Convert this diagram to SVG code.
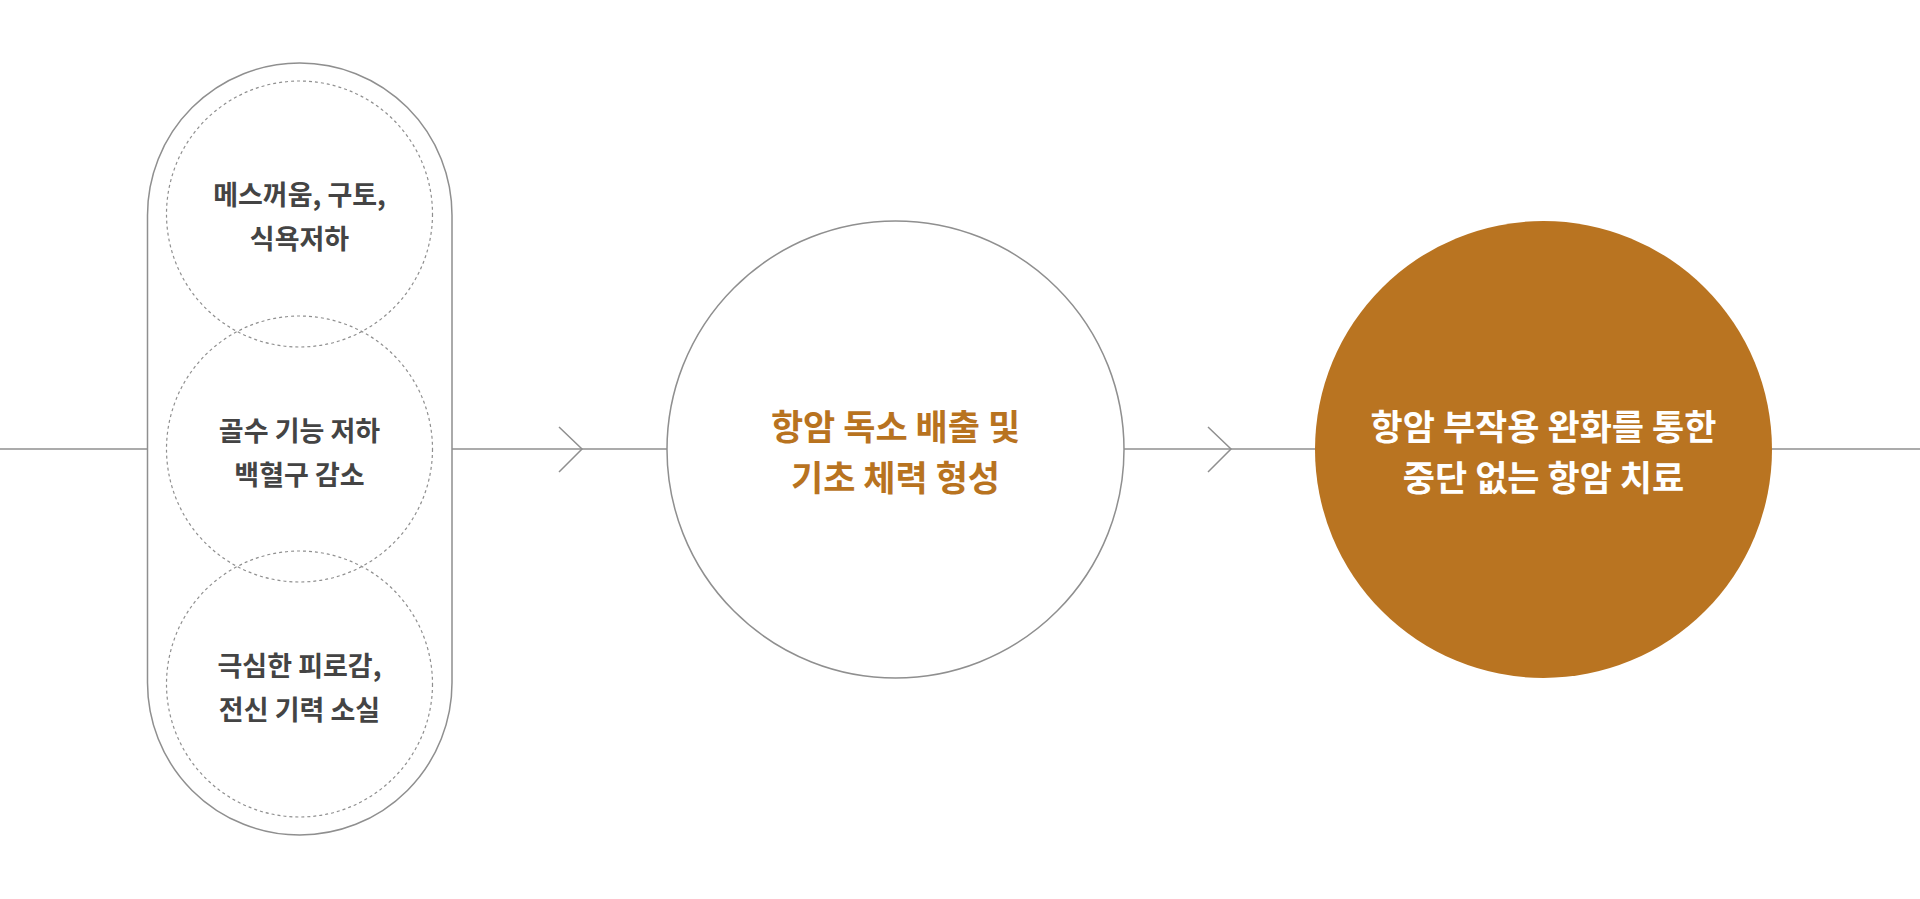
<svg xmlns="http://www.w3.org/2000/svg" width="1920" height="899" viewBox="0 0 1920 899">
  <style>
    .line { fill: none; stroke: #8f8f8f; stroke-width: 1.5; }
    .dash { fill: none; stroke: #8f8f8f; stroke-width: 1.2; stroke-dasharray: 3 3; }
    .t { font-family: "Noto Sans CJK KR", "Noto Sans", sans-serif; font-weight: 700; text-anchor: middle; }
    .small { font-size: 27px; fill: #444444; }
    .big { font-size: 35px; }
  </style>
  <rect width="1920" height="899" fill="#ffffff"/>
  <g id="connectors">
    <line class="line" x1="0" y1="449" x2="147" y2="449"/>
    <line class="line" x1="452" y1="449" x2="667" y2="449"/>
    <polyline class="line" points="559,427 582,449 559,472"/>
    <line class="line" x1="1124" y1="449" x2="1315" y2="449"/>
    <polyline class="line" points="1208,427 1231,449 1208,472"/>
    <line class="line" x1="1772" y1="449" x2="1920" y2="449"/>
  </g>
  <g id="symptoms">
    <rect class="line" x="147.5" y="63" width="304.5" height="772" rx="152.25" ry="152.25"/>
    <g id="symptom1">
      <circle class="dash" cx="299.5" cy="214" r="133"/>
      <text class="t small" x="299.5" y="205">메스꺼움, 구토,</text>
      <text class="t small" x="299.5" y="249">식욕저하</text>
    </g>
    <g id="symptom2">
      <circle class="dash" cx="299.5" cy="449" r="133"/>
      <text class="t small" x="299.5" y="441">골수 기능 저하</text>
      <text class="t small" x="299.5" y="485">백혈구 감소</text>
    </g>
    <g id="symptom3">
      <circle class="dash" cx="299.5" cy="684" r="133"/>
      <text class="t small" x="299.5" y="676">극심한 피로감,</text>
      <text class="t small" x="299.5" y="720">전신 기력 소실</text>
    </g>
  </g>
  <g id="detox">
    <circle class="line" cx="895.5" cy="449.5" r="228.5" fill="#ffffff"/>
    <text class="t big" x="895.5" y="440" fill="#b8731f">항암 독소 배출 및</text>
    <text class="t big" x="895.5" y="491" fill="#b8731f">기초 체력 형성</text>
  </g>
  <g id="result">
    <circle cx="1543.5" cy="449.5" r="228.5" fill="#b97421"/>
    <text class="t big" x="1543.5" y="440" fill="#ffffff">항암 부작용 완화를 통한</text>
    <text class="t big" x="1543.5" y="491" fill="#ffffff">중단 없는 항암 치료</text>
  </g>
</svg>
